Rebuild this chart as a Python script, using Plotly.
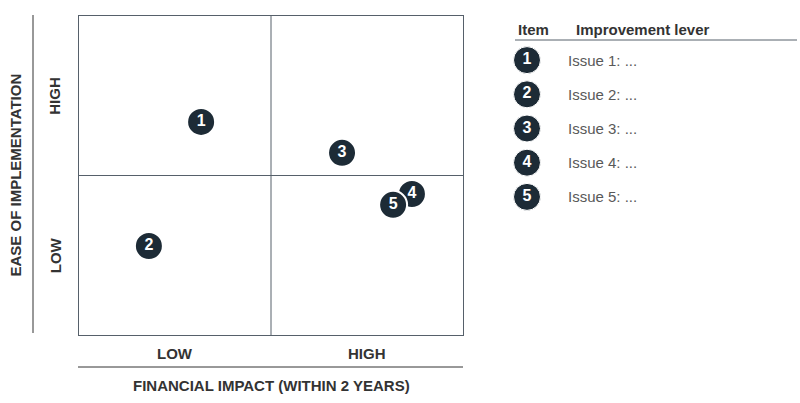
import plotly.graph_objects as go

# Data
items = [1, 2, 3, 4, 5]
financial_impact = [3.18, 1.82, 6.85, 8.67, 8.18]   # x, 0-10 scale
ease_of_impl = [6.68, 2.79, 5.71, 4.42, 4.08]        # y, 0-10 scale
levers = ["Issue 1: ...", "Issue 2: ...", "Issue 3: ...", "Issue 4: ...", "Issue 5: ..."]
x_ticks = ["LOW", "HIGH"]
y_ticks = ["LOW", "HIGH"]

W, H = 800, 403
NAVY = "#1d2b36"
LINE = "#56606a"
TXT = "#333333"
FONT = "Liberation Sans Narrow, Arial Narrow, sans-serif"

def px(x):
    return x / W

def py(y):
    return 1 - y / H

fig = go.Figure()

# Main matrix points (5 drawn after 4 so it sits on top)
fig.add_trace(go.Scatter(
    x=financial_impact,
    y=ease_of_impl,
    mode="markers+text",
    text=[str(i) for i in items],
    textposition="middle center",
    textfont=dict(color="white", size=16, family=FONT, weight="bold"),
    marker=dict(size=28, color=NAVY, line=dict(color="white", width=2)),
    hoverinfo="skip", showlegend=False, cliponaxis=False,
    xaxis="x", yaxis="y",
))

# Legend table markers
fig.add_trace(go.Scatter(
    x=[0] * len(items), y=items,
    mode="markers+text",
    text=[str(i) for i in items],
    textposition="middle center",
    textfont=dict(color="white", size=16, family=FONT, weight="bold"),
    marker=dict(size=27, color=NAVY, line=dict(color="white", width=1)),
    hoverinfo="skip", showlegend=False, cliponaxis=False,
    xaxis="x2", yaxis="y2",
))

annotations = []
for it, lv in zip(items, levers):
    annotations.append(dict(x=0.13, y=it, xref="x2", yref="y2", text=lv,
                            showarrow=False, xanchor="left", yanchor="middle",
                            font=dict(size=15, color="#595959", family=FONT)))

# Header of legend table
annotations += [
    dict(x=px(516), y=py(29), xref="paper", yref="paper", text="<b>Item</b>",
         showarrow=False, xanchor="left", yanchor="middle",
         font=dict(size=15, color=TXT, family=FONT)),
    dict(x=px(574), y=py(29), xref="paper", yref="paper", text="<b>Improvement lever</b>",
         showarrow=False, xanchor="left", yanchor="middle",
         font=dict(size=15, color=TXT, family=FONT)),
]

# Axis category labels
annotations += [
    dict(x=2.5, y=py(353), xref="x", yref="paper", text="<b>" + x_ticks[0] + "</b>",
         showarrow=False, xanchor="center", yanchor="middle",
         font=dict(size=15, color=TXT, family=FONT)),
    dict(x=7.5, y=py(353), xref="x", yref="paper", text="<b>" + x_ticks[1] + "</b>",
         showarrow=False, xanchor="center", yanchor="middle",
         font=dict(size=15, color=TXT, family=FONT)),
    dict(x=px(55), y=2.5, xref="paper", yref="y", text="<b>" + y_ticks[0] + "</b>",
         showarrow=False, textangle=-90, xanchor="center", yanchor="middle",
         font=dict(size=15, color=TXT, family=FONT)),
    dict(x=px(55), y=7.5, xref="paper", yref="y", text="<b>" + y_ticks[1] + "</b>",
         showarrow=False, textangle=-90, xanchor="center", yanchor="middle",
         font=dict(size=15, color=TXT, family=FONT)),
    dict(x=5, y=py(385), xref="x", yref="paper", text="<b>FINANCIAL IMPACT (WITHIN 2 YEARS)</b>",
         showarrow=False, xanchor="center", yanchor="middle",
         font=dict(size=15, color=TXT, family=FONT)),
    dict(x=px(15), y=5, xref="paper", yref="y", text="<b>EASE OF IMPLEMENTATION</b>",
         showarrow=False, textangle=-90, xanchor="center", yanchor="middle",
         font=dict(size=15, color=TXT, family=FONT)),
]

shapes = [
    # quadrant dividers
    dict(type="line", xref="x", yref="y", x0=5, x1=5, y0=0, y1=10,
         line=dict(color=LINE, width=1)),
    dict(type="line", xref="x", yref="y", x0=0, x1=10, y0=5, y1=5,
         line=dict(color=LINE, width=1)),
    # outer axis rules
    dict(type="line", xref="paper", yref="paper", x0=px(33), x1=px(33), y0=py(15), y1=py(333),
         line=dict(color=TXT, width=1)),
    dict(type="line", xref="paper", yref="paper", x0=px(78), x1=px(463), y0=py(367), y1=py(367),
         line=dict(color=TXT, width=1)),
    # legend header rule
    dict(type="line", xref="paper", yref="paper", x0=px(515), x1=px(797), y0=py(40), y1=py(40),
         line=dict(color=LINE, width=1)),
]

fig.update_layout(
    width=W, height=H,
    margin=dict(l=0, r=0, t=0, b=0),
    paper_bgcolor="white", plot_bgcolor="white",
    xaxis=dict(domain=[px(79), px(463)], range=[0, 10], showgrid=False, zeroline=False,
               showticklabels=False, ticks="", showline=True, linecolor=LINE, linewidth=1,
               mirror=True, fixedrange=True),
    yaxis=dict(domain=[py(335), py(16)], range=[0, 10], showgrid=False, zeroline=False,
               showticklabels=False, ticks="", showline=True, linecolor=LINE, linewidth=1,
               mirror=True, fixedrange=True),
    xaxis2=dict(domain=[px(500), 1], range=[-0.09, 0.91], visible=False, fixedrange=True),
    yaxis2=dict(domain=[py(214), py(43)], range=[5.5, 0.5], visible=False, fixedrange=True),
    annotations=annotations,
    shapes=shapes,
    font=dict(family=FONT),
)

fig.write_html("out.html")
